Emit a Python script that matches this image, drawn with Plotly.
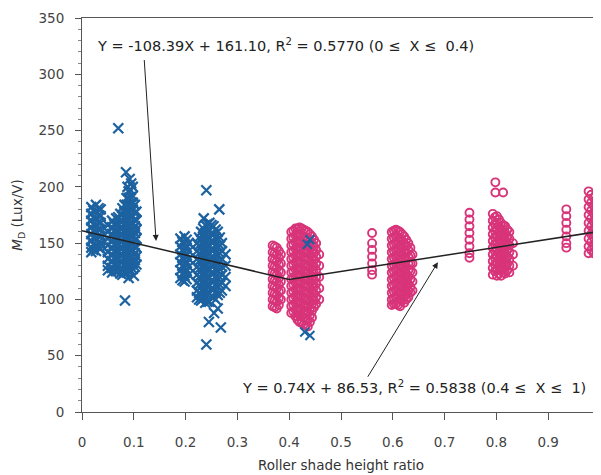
import plotly.graph_objects as go

# ---------------- data ----------------
# Blue series (X markers): columns of points (x position, y values)
blue_col_x = [0.018, 0.027, 0.036, 0.022, 0.032,
              0.050, 0.058, 0.066, 0.074, 0.082, 0.090, 0.098, 0.105,
              0.062, 0.070, 0.078, 0.086, 0.094, 0.102,
              0.190, 0.198, 0.206, 0.194, 0.202,
              0.222, 0.230, 0.238, 0.246, 0.254, 0.262, 0.270, 0.277,
              0.226, 0.234, 0.242, 0.250, 0.258, 0.266]
blue_col_y = [
    [182, 176, 170, 164, 158, 152, 146, 142],
    [184, 178, 172, 166, 160, 154, 148, 143],
    [180, 174, 168, 162, 156, 150, 145],
    [179, 173, 167, 161, 155, 149, 144],
    [181, 175, 169, 163, 157, 151, 146],
    [166, 160, 154, 148, 142, 136, 130, 126],
    [170, 164, 158, 152, 146, 140, 134, 128, 124],
    [172, 166, 160, 154, 148, 142, 136, 130, 125],
    [176, 170, 164, 158, 152, 146, 140, 134, 128, 123],
    [184, 178, 172, 166, 160, 154, 148, 142, 136, 130, 124],
    [196, 190, 184, 178, 172, 166, 160, 154, 148, 142, 136, 130, 125],
    [200, 192, 186, 180, 174, 168, 162, 156, 150, 144, 138, 132, 127],
    [178, 170, 162, 154, 146, 138, 131],
    [167, 161, 155, 149, 143, 137, 131, 126],
    [173, 167, 161, 155, 149, 143, 137, 131, 125],
    [181, 175, 169, 163, 157, 151, 145, 139, 133, 127, 122],
    [190, 184, 178, 172, 166, 160, 154, 148, 142, 136, 130, 124],
    [197, 191, 185, 179, 173, 167, 161, 155, 149, 143, 137, 131, 126],
    [184, 177, 171, 165, 159, 153, 147, 141, 135, 129],
    [154, 147, 140, 133, 126, 119],
    [156, 149, 142, 135, 128, 121, 116],
    [150, 143, 136, 129, 122],
    [151, 144, 137, 130, 123, 117],
    [153, 146, 139, 132, 125, 118],
    [150, 143, 136, 129, 122, 115, 108, 102],
    [160, 153, 146, 139, 132, 125, 118, 111, 104, 99],
    [166, 159, 152, 145, 138, 131, 124, 117, 110, 103, 97],
    [168, 161, 154, 147, 140, 133, 126, 119, 112, 105, 98],
    [165, 158, 151, 144, 137, 130, 123, 116, 109, 102],
    [160, 153, 146, 139, 132, 125, 118, 111, 104],
    [150, 143, 136, 129, 122, 115, 108],
    [140, 130, 120, 112],
    [155, 148, 141, 134, 127, 120, 113, 106, 100],
    [163, 156, 149, 142, 135, 128, 121, 114, 107, 101],
    [167, 160, 153, 146, 139, 132, 125, 118, 111, 104, 98],
    [166, 159, 152, 145, 138, 131, 124, 117, 110, 103],
    [162, 155, 148, 141, 134, 127, 120, 113, 106, 100],
    [155, 148, 141, 134, 127, 120, 113, 106],
]
# scattered blue points
blue_extra_x = [0.085, 0.092, 0.095, 0.088, 0.070, 0.083, 0.090, 0.100,
                0.240, 0.265, 0.235, 0.255, 0.262, 0.245, 0.268, 0.240]
blue_extra_y = [213, 207, 203, 200, 252, 99, 119, 121,
                197, 180, 172, 88, 92, 80, 75, 60]
# blue points lying over the pink cluster near 0.44
blue_top_x = [0.440, 0.435, 0.430, 0.440]
blue_top_y = [153, 149, 71, 68]

# Pink series (open circles): columns of points
pink_col_x = [0.368, 0.376, 0.384, 0.372, 0.380,
              0.404, 0.412, 0.420, 0.428, 0.436, 0.444, 0.452, 0.458,
              0.408, 0.416, 0.424, 0.432, 0.440, 0.448,
              0.560,
              0.598, 0.606, 0.614, 0.622, 0.630, 0.638,
              0.602, 0.610, 0.618, 0.626, 0.634,
              0.748,
              0.793, 0.801, 0.809, 0.817, 0.825, 0.832,
              0.797, 0.805, 0.813, 0.821,
              0.935,
              0.978, 0.988, 0.997, 0.983, 0.993]
pink_col_y = [
    [148, 142, 136, 130, 124, 118, 112, 106, 100, 94],
    [146, 140, 134, 128, 122, 116, 110, 104, 98, 92],
    [140, 132, 124, 116, 108, 100],
    [147, 141, 135, 129, 123, 117, 111, 105, 99, 93],
    [143, 137, 131, 125, 119, 113, 107, 101, 95],
    [160, 154, 148, 142, 136, 130, 124, 118, 112, 106, 100, 94, 88],
    [163, 157, 151, 145, 139, 133, 127, 121, 115, 109, 103, 97, 91, 85],
    [164, 158, 152, 146, 140, 134, 128, 122, 116, 110, 104, 98, 92, 86, 80],
    [162, 156, 150, 144, 138, 132, 126, 120, 114, 108, 102, 96, 90, 84, 78],
    [160, 154, 148, 142, 136, 130, 124, 118, 112, 106, 100, 94, 88, 82, 76],
    [156, 150, 144, 138, 132, 126, 120, 114, 108, 102, 96, 90, 84],
    [150, 144, 138, 132, 126, 120, 114, 108, 102, 96],
    [140, 130, 120, 110, 100],
    [161, 155, 149, 143, 137, 131, 125, 119, 113, 107, 101, 95, 89],
    [163, 157, 151, 145, 139, 133, 127, 121, 115, 109, 103, 97, 91, 85, 82],
    [163, 157, 151, 145, 139, 133, 127, 121, 115, 109, 103, 97, 91, 85, 79],
    [161, 155, 149, 143, 137, 131, 125, 119, 113, 107, 101, 95, 89, 83, 77],
    [158, 152, 146, 140, 134, 128, 122, 116, 110, 104, 98, 92, 86, 80],
    [153, 147, 141, 135, 129, 123, 117, 111, 105, 99, 93],
    [159, 150, 144, 138, 132, 126, 122],
    [160, 154, 148, 142, 136, 130, 124, 118, 112, 106, 100, 95],
    [162, 156, 150, 144, 138, 132, 126, 120, 114, 108, 102, 96],
    [160, 154, 148, 142, 136, 130, 124, 118, 112, 106, 100, 94],
    [156, 150, 144, 138, 132, 126, 120, 114, 108, 102, 97],
    [150, 144, 138, 132, 126, 120, 114, 108, 102],
    [140, 132, 124, 116, 108],
    [161, 155, 149, 143, 137, 131, 125, 119, 113, 107, 101, 96],
    [161, 155, 149, 143, 137, 131, 125, 119, 113, 107, 101, 95],
    [158, 152, 146, 140, 134, 128, 122, 116, 110, 104, 99],
    [153, 147, 141, 135, 129, 123, 117, 111, 105, 100],
    [146, 139, 132, 125, 118, 111, 106],
    [177, 171, 165, 159, 153, 147, 141, 137],
    [176, 170, 164, 158, 152, 146, 140, 134, 128, 122],
    [174, 168, 162, 156, 150, 144, 138, 132, 126, 121],
    [168, 162, 156, 150, 144, 138, 132, 126, 121],
    [165, 159, 153, 147, 141, 135, 129, 123],
    [160, 154, 148, 142, 136, 130, 124],
    [150, 140, 130],
    [173, 167, 161, 155, 149, 143, 137, 131, 125],
    [171, 165, 159, 153, 147, 141, 135, 129, 123],
    [166, 160, 154, 148, 142, 136, 130, 124],
    [162, 156, 150, 144, 138, 132, 126],
    [180, 174, 168, 162, 156, 150, 146],
    [196, 189, 182, 175, 168, 161, 154, 147, 141],
    [190, 183, 176, 169, 162, 155, 148, 141],
    [185, 178, 171, 164, 157, 150, 143],
    [193, 186, 179, 172, 165, 158, 151, 144],
    [187, 180, 173, 166, 159, 152, 145],
]
pink_extra_x = [0.798, 0.798, 0.813]
pink_extra_y = [204, 195, 195]

# Fitted lines (from the two equations)
fit_x = [0.0, 0.4, 1.0]
fit_y = [161.10, 117.74, 160.53]

eq1 = "Y = -108.39X + 161.10, R<sup>2</sup> = 0.5770 (0 ≤  X ≤  0.4)"
eq2 = "Y = 0.74X + 86.53, R<sup>2</sup> = 0.5838 (0.4 ≤  X ≤  1)"

# ---------------- build traces ----------------
def flatten(cols_x, cols_y, ex_x, ex_y):
    xs, ys = [], []
    for cx, cy in zip(cols_x, cols_y):
        for v in cy:
            xs.append(cx)
            ys.append(v)
    return xs + ex_x, ys + ex_y

bx, by = flatten(blue_col_x, blue_col_y, blue_extra_x, blue_extra_y)
px, py = flatten(pink_col_x, pink_col_y, pink_extra_x, pink_extra_y)

BLUE = "#1d62a0"
PINK = "#d8347a"
FONT = "DejaVu Sans, Verdana, sans-serif"

fig = go.Figure()
fig.add_trace(go.Scatter(
    x=bx, y=by, mode="markers",
    marker=dict(symbol="x-thin-open", size=10, color=BLUE, line=dict(width=2.2, color=BLUE)),
    showlegend=False))
fig.add_trace(go.Scatter(
    x=px, y=py, mode="markers",
    marker=dict(symbol="circle-open", size=8, color=PINK, line=dict(width=1.9, color=PINK)),
    showlegend=False))
fig.add_trace(go.Scatter(
    x=blue_top_x, y=blue_top_y, mode="markers",
    marker=dict(symbol="x-thin-open", size=9, color=BLUE, line=dict(width=2, color=BLUE)),
    showlegend=False))
fig.add_trace(go.Scatter(
    x=fit_x, y=fit_y, mode="lines",
    line=dict(color="#222222", width=1.5), showlegend=False))

fig.add_annotation(x=0.025, y=326, xref="x", yref="y", text=eq1, showarrow=False,
                   xanchor="left", yanchor="middle", font=dict(size=14.5, color="#222", family=FONT))
fig.add_annotation(x=0.305, y=22, xref="x", yref="y", text=eq2, showarrow=False,
                   xanchor="left", yanchor="middle", font=dict(size=14.5, color="#222", family=FONT))
fig.add_annotation(x=0.143, y=152, ax=0.120, ay=314, xref="x", yref="y", axref="x", ayref="y",
                   text="", showarrow=True, arrowhead=2, arrowsize=1.2, arrowwidth=1, arrowcolor="#222")
fig.add_annotation(x=0.687, y=133, ax=0.550, ay=30, xref="x", yref="y", axref="x", ayref="y",
                   text="", showarrow=True, arrowhead=2, arrowsize=1.2, arrowwidth=1, arrowcolor="#222")

# the page puts the figure 8 px from the top-left corner, margins compensate
fig.update_layout(
    width=593, height=467,
    margin=dict(l=74, r=1, t=10, b=63),
    paper_bgcolor="white", plot_bgcolor="white",
    font=dict(family=FONT, size=13.5, color="#444"),
    xaxis=dict(range=[0, 1], dtick=0.1, tick0=0, showgrid=False, zeroline=False,
               automargin=False,
               showline=True, linecolor="#555", linewidth=1, mirror=True,
               ticks="outside", ticklen=7, tickcolor="#555", ticklabelstandoff=11,
               title=dict(text="Roller shade height ratio", font=dict(size=13.5, color="#333"), standoff=11),
               tickfont=dict(size=13.5, color="#444")),
    yaxis=dict(range=[0, 350], dtick=50, showgrid=False, zeroline=False,
               automargin=False,
               showline=True, linecolor="#555", linewidth=1, mirror=True,
               ticks="outside", ticklen=6, tickcolor="#555", ticklabelstandoff=8,
               minor=dict(dtick=10, ticks="outside", ticklen=3, tickcolor="#888"),
               title=dict(text="<i>M</i><sub>D</sub> (Lux/V)", font=dict(size=13.5, color="#333"), standoff=12),
               tickfont=dict(size=13.5, color="#444")),
)

fig.write_html("out.html")
